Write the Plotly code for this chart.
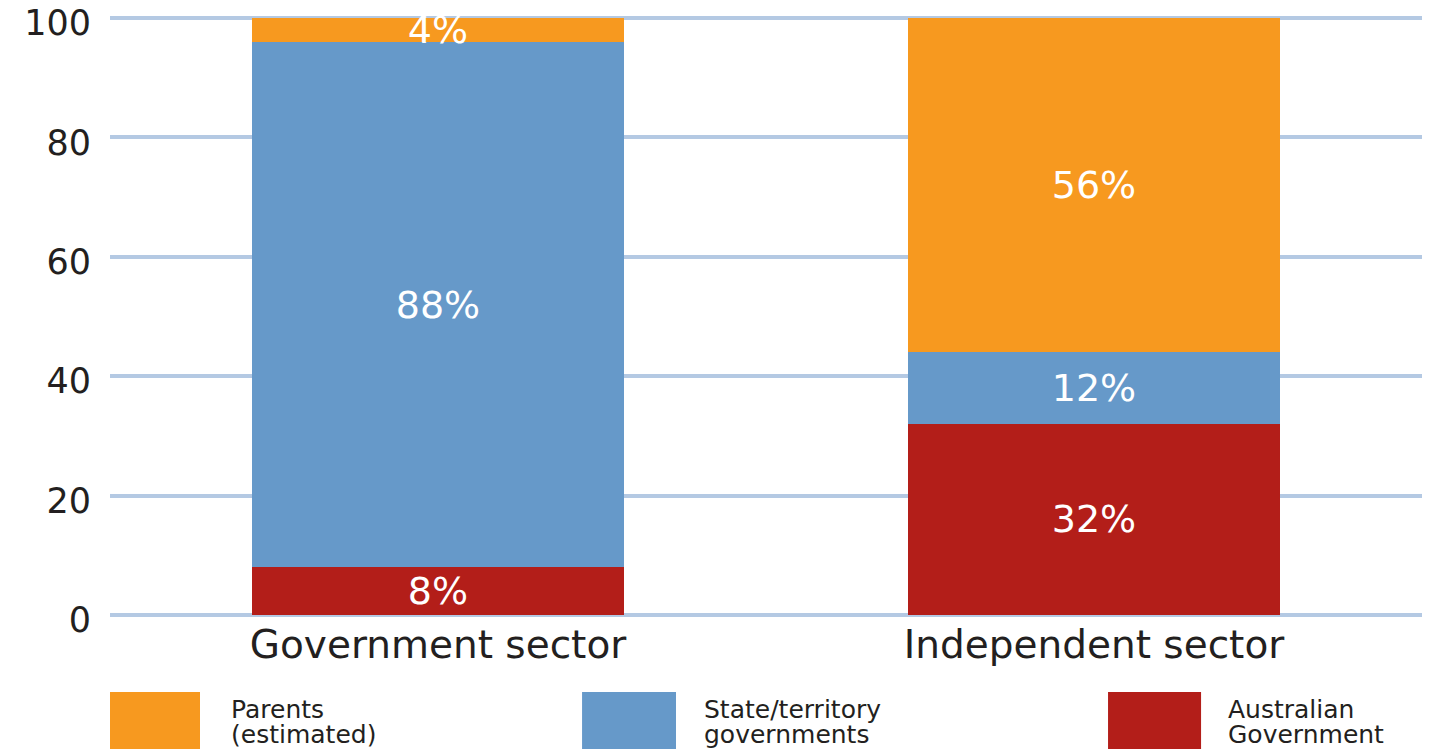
import plotly.graph_objects as go

categories = ["Government sector", "Independent sector"]
series_names = ["Australian Government", "State/territory governments", "Parents (estimated)"]
australian_gov = [8, 32]
state_gov = [88, 12]
parents = [4, 56]
series_colors = ["#B31E19", "#6699C9", "#F7991F"]
y_ticks = [0, 20, 40, 60, 80, 100]

# legend order as shown (left to right)
legend_order = [2, 1, 0]
legend_lines = {
    0: ["Australian", "Government"],
    1: ["State/territory", "governments"],
    2: ["Parents", "(estimated)"],
}

FONT = "DejaVu Sans"
TXT = "#231f20"

fig = go.Figure()
for name, vals, col in zip(series_names, [australian_gov, state_gov, parents], series_colors):
    fig.add_trace(go.Bar(
        x=categories, y=vals, name=name,
        marker=dict(color=col, line=dict(width=0)),
        texttemplate="%{y}%", textposition="inside", insidetextanchor="middle",
        textangle=0, constraintext="none", cliponaxis=False,
        textfont=dict(family=FONT, size=38, color="white"),
        showlegend=False, hoverinfo="skip",
    ))

# custom legend (large swatches with two-line labels)
sw_x = [(0.0, 0.0686), (0.3598, 0.4314), (0.7607, 0.8316)]
tx_x = [0.0907, 0.4512, 0.8506]
line_y = [-0.151, -0.1935]
for slot, si in enumerate(legend_order):
    x0, x1 = sw_x[slot]
    fig.add_shape(type="rect", xref="paper", yref="paper",
                  x0=x0, x1=x1, y0=-0.1227, y1=-0.24,
                  fillcolor=series_colors[si], line=dict(width=0))
    for li, line in enumerate(legend_lines[si]):
        fig.add_annotation(xref="paper", yref="paper", x=tx_x[slot],
                           y=line_y[li], xanchor="left", yanchor="middle",
                           text=line, showarrow=False,
                           font=dict(family=FONT, size=25, color=TXT))

fig.update_layout(
    barmode="stack", bargap=0.433,
    width=1422, height=741,
    margin=dict(l=102, r=8, t=7, b=131, autoexpand=False),
    paper_bgcolor="white", plot_bgcolor="white",
    font=dict(family=FONT, color=TXT),
)
fig.update_xaxes(showgrid=False, showline=False, zeroline=False, ticks="",
                 tickfont=dict(family=FONT, size=39, color=TXT),
                 ticklabelstandoff=0)
fig.update_yaxes(range=[-0.5, 100.5], tickvals=y_ticks, showgrid=True,
                 gridcolor="#b4c9e3", gridwidth=4, zeroline=False, showline=False,
                 ticks="", tickfont=dict(family=FONT, size=35, color=TXT),
                 ticklabelstandoff=18, ticklabelshift=5, ticklabeloverflow="allow")

fig.write_html("out.html")
